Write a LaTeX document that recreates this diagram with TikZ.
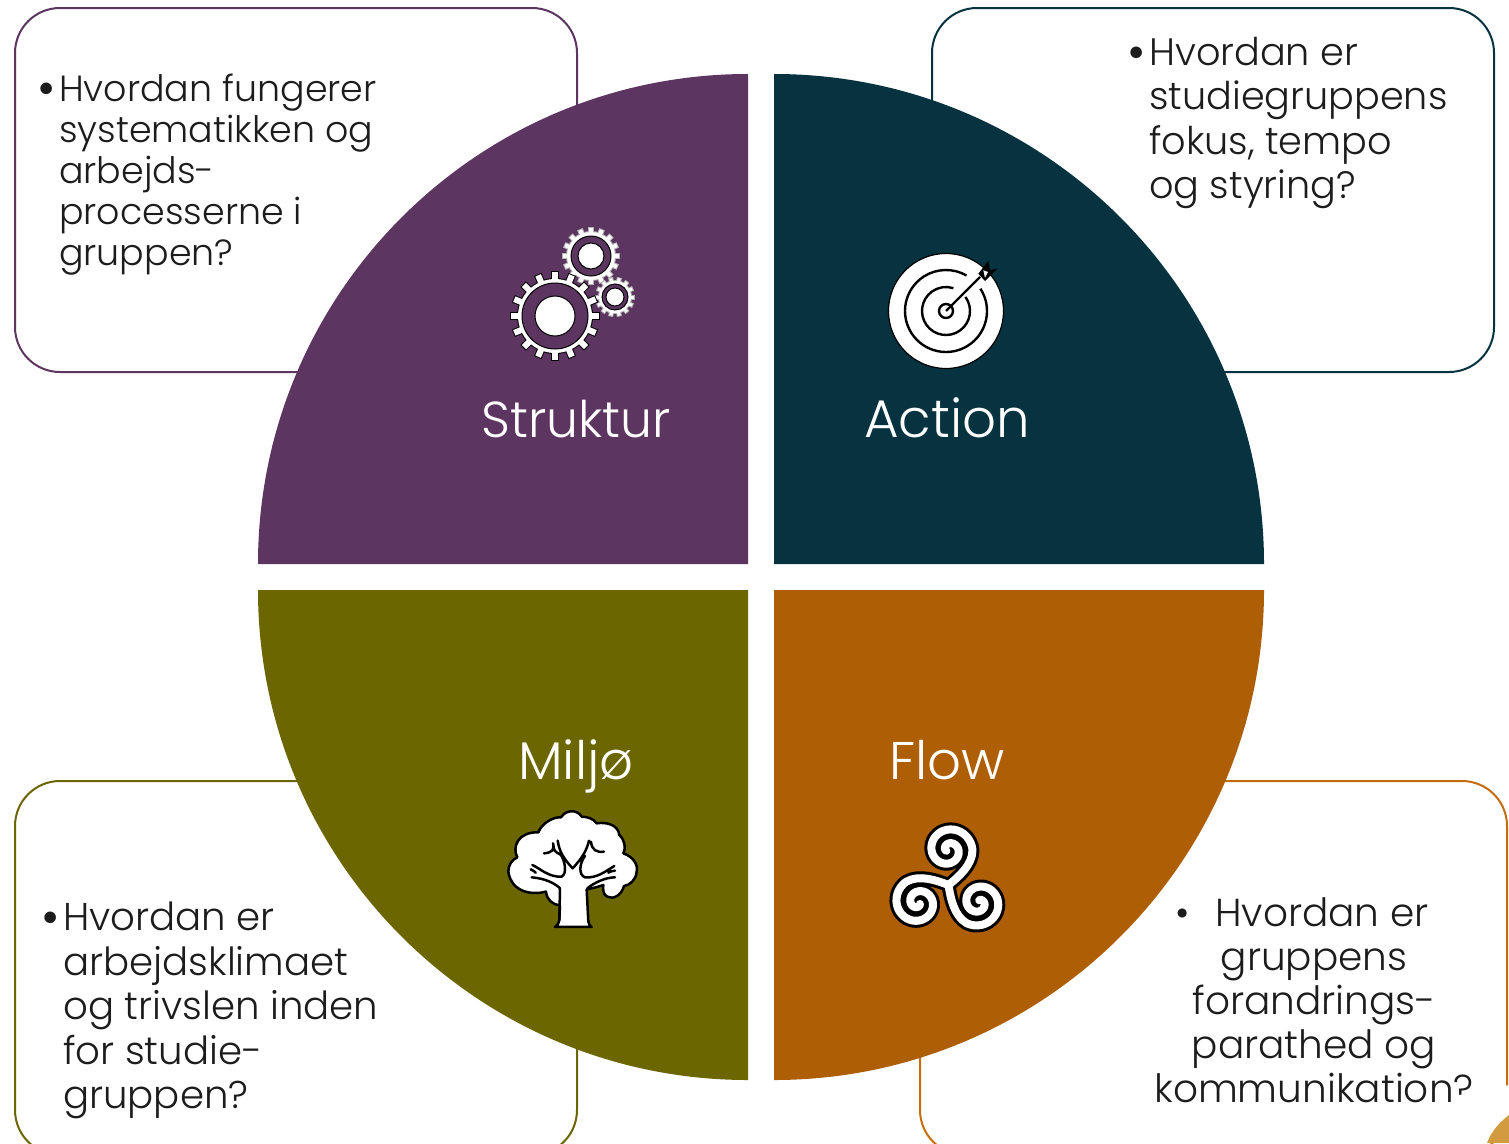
\documentclass[tikz,border=0pt]{standalone}
\usepackage{fontspec}
\setmainfont{Poppins Light}
\definecolor{cpurple}{HTML}{5C3660}
\definecolor{cteal}{HTML}{06333F}
\definecolor{colive}{HTML}{6B6600}
\definecolor{corange}{HTML}{AE5E04}
\definecolor{cborange}{HTML}{C56C0C}
\definecolor{cgold}{HTML}{D39B3F}
\definecolor{ctext}{HTML}{1C1C1C}
\newcommand{\bigbul}{\llap{\raisebox{-4pt}{\fontsize{50}{44}\selectfont •}\hspace{3pt}}}
\tikzset{
  boxline/.style={line width=2pt,rounded corners=45pt,fill=white},
  bodytext/.style={anchor=north west,inner sep=0pt,align=left,text=ctext},
  titletext/.style={anchor=base,inner sep=0pt,text=white,font=\fontsize{53}{60}\selectfont},
}
\newcommand{\gearicon}[9]{% cx cy rtip rring rinner rhole n toothw outline
  \begin{scope}[shift={(#1,-#2)}]
    \foreach \a in {1,...,#7}{
      \draw[#9,line width=#8pt+2pt] (\a*360/#7:#4-1) -- (\a*360/#7:#3+1);
    }
    \fill[#9] (0,0) circle[radius=#4+1];
    \foreach \a in {1,...,#7}{
      \draw[white,line width=#8pt] (\a*360/#7:#4-1) -- (\a*360/#7:#3);
    }
    \fill[white] (0,0) circle[radius=#4];
    \draw[black,fill=cpurple,line width=1pt] (0,0) circle[radius=#5];
    \draw[black,fill=white,line width=1pt] (0,0) circle[radius=#6];
  \end{scope}
}
\newcommand{\spiralarm}[3]{% rotation, colour, width
  \begin{scope}[shift={(948.5,-885)},rotate=#1]
    \draw[#2,line width=#3pt,line cap=round,line join=round]
      (0,0) .. controls (10,8) and (24,20) .. (24,35)
      -- plot[smooth,domain=0:560,samples=60] ({(24-14*\x/360)*cos(\x)},{35+(24-14*\x/360)*sin(\x)});
  \end{scope}
}
\begin{document}
\begin{tikzpicture}[x=1pt,y=1pt]
\clip (0,-1143) rectangle (1509,0);
\fill[white] (0,-1143) rectangle (1509,0);
% boxes
\draw[boxline,draw=cpurple] (15,-372) rectangle (577,-8);
\draw[boxline,draw=cteal] (932,-372) rectangle (1494,-8);
\draw[boxline,draw=colive] (15,-1155) rectangle (577,-781);
\draw[boxline,draw=cborange] (920,-1155) rectangle (1507,-781);
% quadrants
\fill[cpurple] (748,-564) -- (258,-564) arc[start angle=180,end angle=90,radius=490] -- cycle;
\fill[cteal] (774,-564) -- (774,-74) arc[start angle=90,end angle=0,radius=490] -- cycle;
\fill[colive] (748,-590) -- (748,-1080) arc[start angle=270,end angle=180,radius=490] -- cycle;
\fill[corange] (774,-590) -- (1264,-590) arc[start angle=0,end angle=-90,radius=490] -- cycle;
% box texts
\node[bodytext,font=\fontsize{36.4}{41}\selectfont] (t1) at (59,-74) {\bigbul Hvordan fungerer\\systematikken og\\arbejds-\\processerne i\\gruppen?};
\node[bodytext,font=\fontsize{38.2}{44.5}\selectfont] (t2) at (1149,-37) {\bigbul Hvordan er\\studiegruppens\\fokus, tempo\\og styring?};
\node[bodytext,font=\fontsize{38.7}{44.5}\selectfont] (t3) at (63,-902) {\bigbul Hvordan er\\arbejdsklimaet\\og trivslen inden\\for studie-\\gruppen?};
\node[anchor=north,inner sep=0pt,align=center,text=ctext,font=\fontsize{39}{44}\selectfont] (t4) at (1314,-897) {\hspace{16pt}\llap{•\hspace{26pt}}Hvordan er\\gruppens\\forandrings-\\parathed og\\kommunikation?};
% corner overlay
\fill[white] (1456,-1143) -- (1456,-1097) -- (1509,-1085) -- (1509,-1143) -- cycle;
\fill[cgold] (1487,-1143) .. controls (1492,-1130) and (1500,-1122) .. (1509,-1115) -- (1509,-1143) -- cycle;
% titles
\node[titletext,font=\fontsize{50.5}{60}\selectfont] (struktur) at (576,-437) {Struktur};
\node[titletext] (action) at (947,-437) {Action};
\node[titletext] (miljo) at (576,-779) {Miljø};
\node[titletext] (flow) at (947,-779) {Flow};
% gears
\gearicon{591}{256}{28}{24}{20}{13}{16}{4}{gray!60}
\gearicon{615}{297}{19}{16}{13}{9}{14}{3}{gray!60}
\gearicon{555}{316}{44}{37}{33}{20}{16}{6}{black}
% target
\draw[black,fill=white,line width=1.2pt] (946,-311) circle[radius=57.5];
\begin{scope}[shift={(946,-311)},line width=2.4pt,black]
  \draw (33:41) arc[start angle=33,end angle=-300,radius=41];
  \draw (36:24) arc[start angle=36,end angle=-288,radius=24];
  \draw (0,0) circle[radius=7];
  \draw (0,0) -- (34,34);
  \fill[black] (32.3,37.3) -- (42.3,50) -- (44,41) -- (51.3,42.3) -- (39,30) -- cycle;
  \fill[white] (37.3,40.7) -- (42,39) -- (39,33.3) -- cycle;
\end{scope}
% tree
\begin{scope}[shift={(490,-800)},x=0.3333pt,y=-0.3333pt]
  \draw[black,line width=2.5pt,fill=white,line join=round]
    (213,52) .. controls (228,28) and (262,28) .. (275,50)
    .. controls (295,50) and (312,58) .. (320,70)
    .. controls (350,65) and (385,75) .. (388,105)
    .. controls (405,120) and (408,145) .. (400,160)
    .. controls (430,170) and (445,195) .. (440,215)
    .. controls (438,240) and (420,255) .. (402,258)
    .. controls (395,285) and (370,300) .. (352,290)
    .. controls (340,285) and (338,270) .. (340,255)
    .. controls (320,262) and (305,265) .. (290,268)
    -- (295,365) .. controls (297,375) and (300,378) .. (305,381)
    -- (195,381) .. controls (203,376) and (207,370) .. (208,360)
    -- (210,316) .. controls (190,315) and (170,300) .. (168,275)
    .. controls (130,285) and (65,280) .. (55,215)
    .. controls (55,195) and (65,180) .. (82,172)
    .. controls (65,140) and (85,95) .. (145,97)
    .. controls (155,70) and (190,50) .. (213,52) -- cycle;
  \draw[black,line width=2.5pt,line cap=round,line join=round]
    (203,122) .. controls (208,150) and (215,170) .. (248,205) .. controls (280,170) and (290,150) .. (297,122)
    (189,130) .. controls (195,150) and (185,158) .. (162,160)
    (213,165) .. controls (195,155) and (190,150) .. (189,140)
    (303,125) .. controls (305,150) and (320,158) .. (342,155)
    (127,195) .. controls (150,205) and (175,232) .. (215,230) .. controls (232,220) and (225,185) .. (213,165)
    (122,208) .. controls (128,210) and (135,215) .. (137,218)
    (125,232) .. controls (165,235) and (195,250) .. (210,265) -- (208,360)
    (285,168) .. controls (268,190) and (265,225) .. (285,232) .. controls (320,235) and (345,215) .. (373,198)
    (375,212) .. controls (368,212) and (360,215) .. (355,218)
    (375,232) .. controls (345,232) and (310,250) .. (292,265);
\end{scope}
% triskelion
\spiralarm{0}{black}{14}
\spiralarm{120}{black}{14}
\spiralarm{240}{black}{14}
\spiralarm{0}{white}{8}
\spiralarm{120}{white}{8}
\spiralarm{240}{white}{8}
\end{tikzpicture}
\end{document}
